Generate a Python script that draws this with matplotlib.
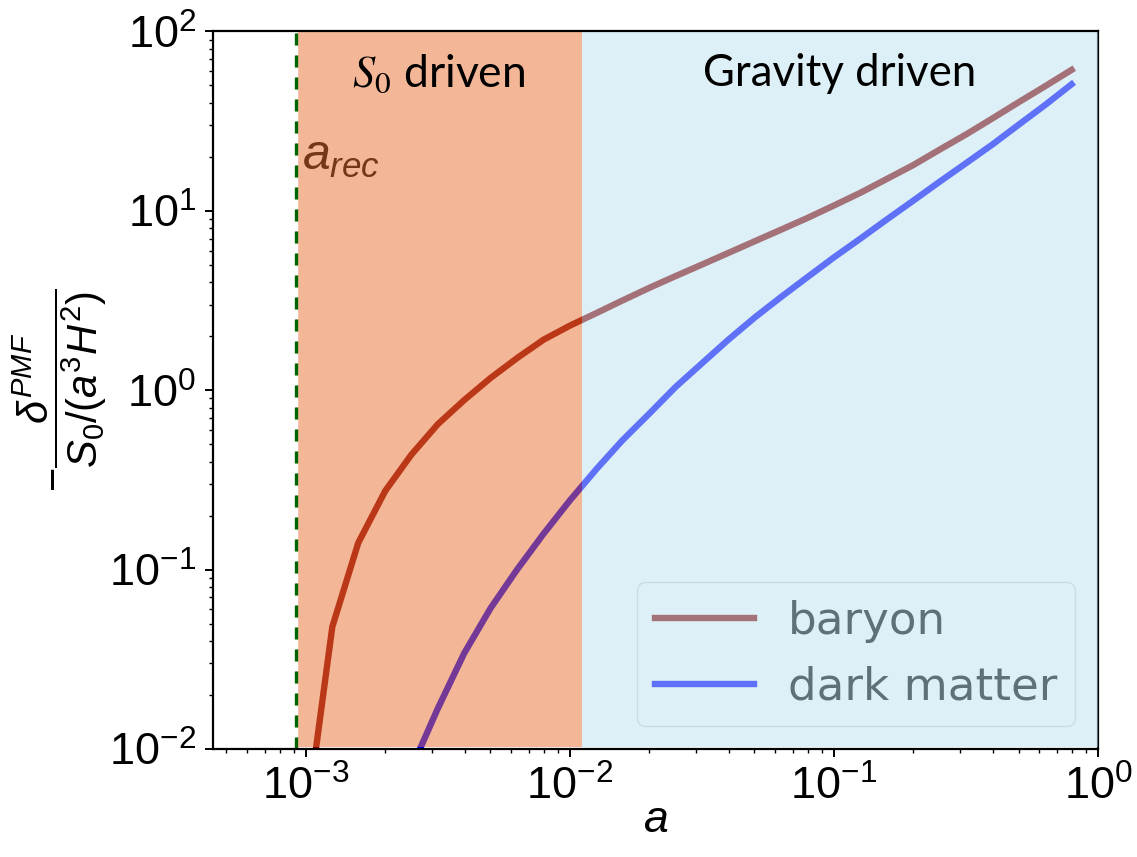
import numpy as np
import matplotlib
matplotlib.use("Agg")
import matplotlib.pyplot as plt

plt.rcParams["font.family"] = "Liberation Sans"
plt.rcParams["mathtext.fontset"] = "custom"
plt.rcParams["mathtext.rm"] = "Liberation Sans"
plt.rcParams["mathtext.it"] = "Liberation Sans:italic"
plt.rcParams["mathtext.bf"] = "Liberation Sans:bold"

# scale factor grid
a_vals = [0.00100, 0.00126, 0.00158, 0.00200, 0.00251, 0.00316, 0.00398,
          0.00501, 0.00631, 0.00794, 0.0100, 0.0126, 0.0158, 0.0200,
          0.0251, 0.0316, 0.0398, 0.0501, 0.0631, 0.0794, 0.100, 0.126,
          0.158, 0.200, 0.251, 0.316, 0.398, 0.501, 0.631, 0.794]

# -delta^PMF / (S0 / (a^3 H^2))
baryon = [0.0038, 0.048, 0.141, 0.275, 0.437, 0.646, 0.881, 1.17, 1.51,
          1.91, 2.29, 2.69, 3.16, 3.72, 4.32, 5.01, 5.82, 6.76, 7.85, 9.12,
          10.7, 12.6, 15.0, 18.0, 21.9, 26.6, 32.7, 40.3, 49.5, 61.0]
dark_matter = [np.nan, np.nan, np.nan, np.nan, 0.0078, 0.0168, 0.0342,
               0.061, 0.100, 0.158, 0.243, 0.363, 0.525, 0.741, 1.04, 1.41,
               1.91, 2.54, 3.31, 4.27, 5.50, 7.00, 8.91, 11.4, 14.5, 18.4,
               23.4, 30.2, 38.9, 50.7]

a_rec = 1 / 1090
a_grav = 1 / 90
series_labels = ["baryon", "dark matter"]

fig = plt.figure(figsize=(11.37, 8.57), dpi=100)
ax = fig.add_axes([0.1873, 0.1260, 0.7784, 0.8374])
ax.set_xscale("log")
ax.set_yscale("log")

lw = 4.6
ax.plot(a_vals, baryon, color="darkred", lw=lw, label=series_labels[0])
ax.plot(a_vals, dark_matter, color="blue", lw=lw, label=series_labels[1])

ax.set_xlim(4.45e-4, 1.0)
ax.set_ylim(1e-2, 1e2)

leg = ax.legend(loc="lower right", prop={"family": "DejaVu Sans", "size": 32.5},
                handlelength=2.2, handletextpad=0.75, labelspacing=0.5)
leg.set_zorder(5)

ax.text(a_rec * 1.05, 20, r"$a_{rec}$", fontsize=36, ha="left", va="center",
        color="black", zorder=4)

# regimes, drawn over the curves and legend
ax.axvspan(a_rec, a_grav, ymin=0.003, ymax=1, color="#E97131", alpha=0.5,
           lw=0, zorder=6)
ax.axvspan(a_grav, 1.0, ymin=0.003, ymax=1, color="#BFE3F1", alpha=0.5,
           lw=0, zorder=6)

ax.axvline(a_rec, color="darkgreen", ls="--", lw=2.4, gapcolor="white",
           dashes=(3.6, 3.0), zorder=7)

ax.text(np.sqrt(a_rec * a_grav), 58, r"$S_0$ driven", fontsize=32,
        family="Lato", math_fontfamily="stix", ha="center", va="center",
        zorder=8)
ax.text(np.sqrt(a_grav * 1.0), 58, "Gravity driven", fontsize=31.5,
        family="Lato", ha="center", va="center", zorder=8)

for side in ["top", "left", "bottom"]:
    ax.spines[side].set_zorder(7)
for sp in ax.spines.values():
    sp.set_linewidth(1.6)

ax.tick_params(which="major", labelsize=32.5, length=6, width=1.4, pad=6)
ax.tick_params(which="minor", length=3, width=1.0)

ax.set_xlabel(r"$a$", fontsize=32, labelpad=-6)
ax.set_ylabel(r"$-\dfrac{\delta^{PMF}}{S_0/(a^3H^2)}$", fontsize=30,
              labelpad=0)

fig.savefig("out.png", dpi=100)
